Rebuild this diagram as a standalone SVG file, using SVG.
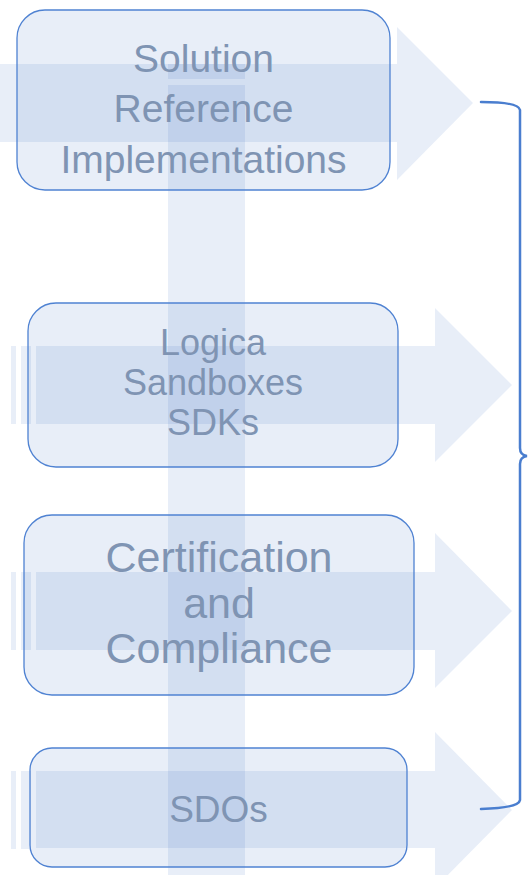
<svg xmlns="http://www.w3.org/2000/svg" width="529" height="875" viewBox="0 0 529 875">
  <style>
    .arrow { fill: #4472c4; fill-opacity: 0.12; }
    .band { fill: #4472c4; fill-opacity: 0.12; }
    .box { fill: #4472c4; fill-opacity: 0.12; stroke: #4f82d2; stroke-width: 1.3; }
    .lbl { font-family: "Liberation Sans", Arial, sans-serif; fill: #7f94b3; text-anchor: middle; }
    .brace { fill: none; stroke: #4a7ecf; stroke-width: 2.5; stroke-linecap: round; }
  </style>
  <rect width="529" height="875" fill="#ffffff"/>

  <g id="arrows">
    <!-- arrow 1 -->
    <path class="arrow" d="M0,64 H397 V27 L473,103 L397,180 V142 H0 Z"/>
    <!-- arrow 2 -->
    <rect class="arrow" x="11" y="346" width="5" height="78"/>
    <rect class="arrow" x="21" y="346" width="10" height="78"/>
    <path class="arrow" d="M36,346 H435 V308 L512,385 L435,462 V424 H36 Z"/>
    <!-- arrow 3 -->
    <rect class="arrow" x="11" y="572" width="5" height="78"/>
    <rect class="arrow" x="21" y="572" width="10" height="78"/>
    <path class="arrow" d="M36,572 H435 V533 L512,611 L435,688 V650 H36 Z"/>
    <!-- arrow 4 -->
    <rect class="arrow" x="11" y="771" width="5" height="78"/>
    <rect class="arrow" x="21" y="771" width="10" height="78"/>
    <path class="arrow" d="M36,771 H435 V732 L512,810 L435,888 V848 H36 Z"/>
  </g>

  <g id="vertical-band">
    <rect class="band" x="168" y="64" width="77" height="15"/>
    <rect class="band" x="168" y="85" width="77" height="790"/>
  </g>

  <g id="node-solution">
    <rect class="box" x="17" y="10" width="373" height="180" rx="28"/>
    <text class="lbl" x="203.5" y="72" font-size="39">Solution</text>
    <text class="lbl" x="203.5" y="122" font-size="39">Reference</text>
    <text class="lbl" x="203.5" y="173" font-size="39">Implementations</text>
  </g>

  <g id="node-logica">
    <rect class="box" x="28" y="303" width="370" height="164" rx="28"/>
    <text class="lbl" x="213" y="355" font-size="36">Logica</text>
    <text class="lbl" x="213" y="395" font-size="36">Sandboxes</text>
    <text class="lbl" x="213" y="435" font-size="36">SDKs</text>
  </g>

  <g id="node-certification">
    <rect class="box" x="24" y="515" width="390" height="180" rx="28"/>
    <text class="lbl" x="219" y="572" font-size="43">Certification</text>
    <text class="lbl" x="219" y="618" font-size="43">and</text>
    <text class="lbl" x="219" y="663" font-size="43">Compliance</text>
  </g>

  <g id="node-sdos">
    <rect class="box" x="30" y="748" width="377" height="119" rx="22"/>
    <text class="lbl" x="218.5" y="822" font-size="37">SDOs</text>
  </g>

  <g id="connectors">
    <path class="brace" d="M481,102 Q519,102 520,110 L520,448 Q520,455 527,456 Q520,457 520,464 L520,800 Q519,808 481,809"/>
  </g>
</svg>
